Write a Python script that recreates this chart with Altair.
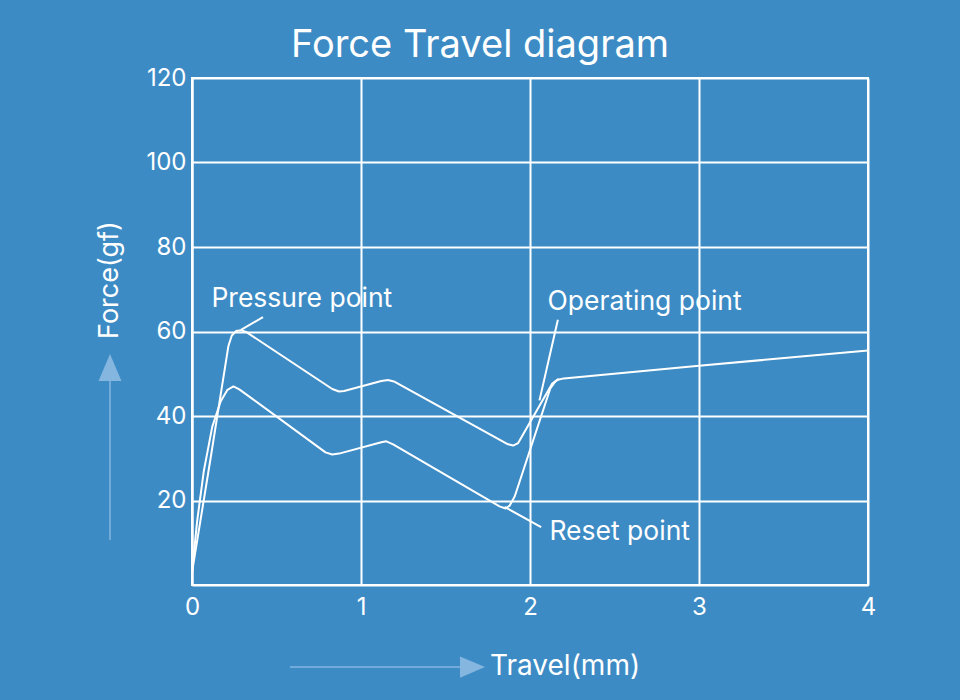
import altair as alt
import pandas as pd

# Key-press curve (force while pressing)
press_travel = [0.0, 0.11, 0.215, 0.235, 0.26, 0.29, 0.32, 0.83, 0.87, 0.90,
                1.12, 1.16, 1.20, 1.87, 1.90, 1.93, 2.13, 2.16, 2.20, 3.0, 4.0]
press_force = [3.0, 30.0, 56.5, 59.0, 60.1, 60.3, 59.9, 46.4, 45.8, 45.9,
               48.3, 48.5, 48.1, 33.3, 33.0, 33.6, 47.6, 48.5, 48.9, 51.9, 55.5]

# Key-release curve (force while returning)
release_travel = [0.0, 0.03, 0.07, 0.12, 0.17, 0.21, 0.245, 0.28, 0.79, 0.83, 0.87,
                  1.12, 1.15, 1.19, 1.82, 1.855, 1.88, 1.91, 2.12, 2.15, 2.17]
release_force = [3.0, 15.0, 27.0, 37.5, 43.5, 46.2, 47.0, 46.3, 31.4, 30.9, 31.1,
                 33.8, 34.0, 33.3, 18.6, 18.1, 18.8, 21.0, 46.5, 48.2, 48.8]

# Callouts: label, label anchor, and leader line from the curve to the label
callout_text = ["Pressure point", "Operating point", "Reset point"]
callout_x = [0.115, 2.104, 2.115]
callout_y = [65.9, 65.0, 10.7]
leader_x = [0.29, 2.165, 1.849]
leader_y = [60.4, 62.8, 18.5]
leader_x2 = [0.42, 2.056, 2.066]
leader_y2 = [63.4, 43.7, 13.7]

x_ticks = [0, 1, 2, 3, 4]
y_ticks = [20, 40, 60, 80, 100, 120]

BG = "#3d8bc5"
ARROW = "#84b6df"
FONT = "Inter"

press = pd.DataFrame({"travel": press_travel, "force": press_force})
release = pd.DataFrame({"travel": release_travel, "force": release_force})
callouts = pd.DataFrame({"label": callout_text, "x": callout_x, "y": callout_y})
leaders = pd.DataFrame({"x": leader_x, "y": leader_y, "x2": leader_x2, "y2": leader_y2})

xs = alt.Scale(domain=[0, 4], nice=False)
ys = alt.Scale(domain=[0, 120], nice=False)

x_axis = alt.Axis(values=x_ticks, format="d", title=None, grid=True, gridColor="white",
                  gridWidth=2, gridOpacity=1, domainColor="white", domainWidth=2,
                  ticks=False, labelColor="white", labelFontSize=24, labelFont=FONT,
                  labelPadding=10, labelFlush=False)
y_axis = alt.Axis(values=y_ticks, format="d", title=None, grid=True, gridColor="white",
                  gridWidth=2, gridOpacity=1, domainColor="white", domainWidth=2,
                  ticks=False, labelColor="white", labelFontSize=24, labelFont=FONT,
                  labelPadding=6, labelFlush=False)

press_line = alt.Chart(press).mark_line(
    color="white", strokeWidth=2, strokeJoin="round"
).encode(x=alt.X("travel:Q", scale=xs, axis=x_axis),
         y=alt.Y("force:Q", scale=ys, axis=y_axis))

release_line = alt.Chart(release).mark_line(
    color="white", strokeWidth=2, strokeJoin="round"
).encode(x=alt.X("travel:Q", scale=xs), y=alt.Y("force:Q", scale=ys))

leader_rules = alt.Chart(leaders).mark_rule(color="white", strokeWidth=2).encode(
    x=alt.X("x:Q", scale=xs), y=alt.Y("y:Q", scale=ys), x2="x2:Q", y2="y2:Q"
)

callout_labels = alt.Chart(callouts).mark_text(
    color="white", fontSize=26.5, font=FONT, align="left", baseline="alphabetic"
).encode(x=alt.X("x:Q", scale=xs), y=alt.Y("y:Q", scale=ys), text="label:N")

# Chart title and axis titles with their arrows, placed outside the plot area
title_text = alt.Chart(pd.DataFrame({"t": ["Force Travel diagram"]})).mark_text(
    color="white", fontSize=38, font=FONT, align="center", baseline="alphabetic"
).encode(x=alt.value(288), y=alt.value(-21), text="t:N")

y_title = alt.Chart(pd.DataFrame({"t": ["Force(gf)"]})).mark_text(
    color="white", fontSize=27, font=FONT, angle=270, align="center", baseline="middle"
).encode(x=alt.value(-82), y=alt.value(202), text="t:N")

x_title = alt.Chart(pd.DataFrame({"t": ["Travel(mm)"]})).mark_text(
    color="white", fontSize=28, font=FONT, align="left", baseline="middle"
).encode(x=alt.value(298), y=alt.value(589), text="t:N")

y_arrow_shaft = alt.Chart(pd.DataFrame({"a": [0]})).mark_rule(
    color=ARROW, strokeWidth=1.5
).encode(x=alt.value(-82), y=alt.value(303), y2=alt.value(462))

y_arrow_head = alt.Chart(pd.DataFrame({"a": [0]})).mark_point(
    shape="M0,-1L0.85,1L-0.85,1Z", filled=True, color=ARROW, opacity=1, size=729
).encode(x=alt.value(-82), y=alt.value(289.5))

x_arrow_shaft = alt.Chart(pd.DataFrame({"a": [0]})).mark_rule(
    color=ARROW, strokeWidth=1.5
).encode(x=alt.value(98), x2=alt.value(269), y=alt.value(589))

x_arrow_head = alt.Chart(pd.DataFrame({"a": [0]})).mark_point(
    shape="M1,0L-1,-0.85L-1,0.85Z", filled=True, color=ARROW, opacity=1, size=625
).encode(x=alt.value(280.5), y=alt.value(589))

chart = alt.layer(
    press_line, release_line, leader_rules, callout_labels, title_text,
    y_title, x_title, y_arrow_shaft, y_arrow_head, x_arrow_shaft, x_arrow_head
).properties(
    width=676,
    height=507,
    padding={"left": 192, "top": 78, "right": 92, "bottom": 115},
    autosize=alt.AutoSizeParams(type="none"),
).configure(
    background=BG
).configure_view(
    stroke="white", strokeWidth=2
)

chart.save("out.html", embed_options={"renderer": "svg", "actions": False})
